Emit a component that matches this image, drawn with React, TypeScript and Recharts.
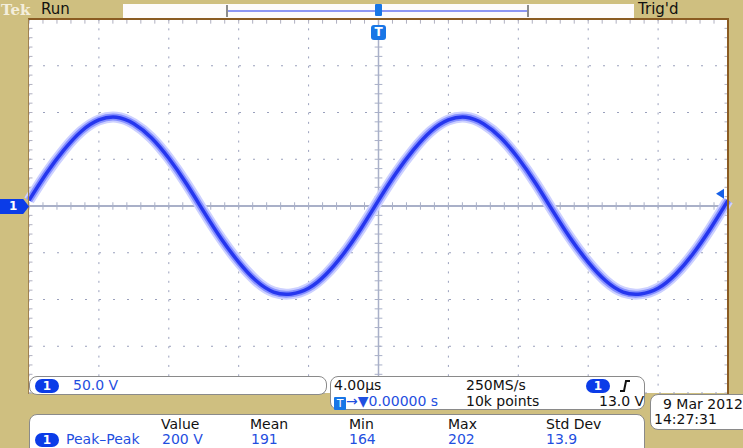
import React from "react";
import { LineChart, Line, XAxis, YAxis, CartesianGrid, ReferenceLine, ReferenceDot } from "recharts";

// time in µs (4 µs/div, trigger at centre), channel 1 in volts (50 V/div)
const timeUs = [-20, -19, -18, -17, -16, -15, -14, -13, -12, -11, -10, -9, -8, -7, -6, -5, -4, -3, -2, -1, 0, 1, 2, 3, 4, 5, 6, 7, 8, 9, 10, 11, 12, 13, 14, 15, 16, 17, 18, 19, 20];
const ch1Volts = [6, 35, 60, 80, 92, 95, 88, 73, 51, 24, -6, -35, -60, -80, -92, -94, -88, -73, -51, -24, 6, 35, 60, 80, 92, 95, 88, 73, 51, 24, -6, -35, -60, -80, -92, -94, -88, -73, -51, -24, 6];

const timeTicks = [-20, -16, -12, -8, -4, 0, 4, 8, 12, 16, 20];
const voltTicks = [-200, -150, -100, -50, 0, 50, 100, 150, 200];
const minorTime = Array.from({ length: 51 }, (_, i) => -20 + i * 0.8);
const minorVolt = Array.from({ length: 41 }, (_, i) => -200 + i * 10);

const triggerLevel = 13;

const data = timeUs.map((t, i) => ({ t, v: ch1Volts[i] }));

const BLUE = "#1f4fe0";
const TAN = "#cfbf80";

function Pill({ left, top }: { left: number; top: number }) {
  return (
    <div style={{ position: "absolute", left, top, width: 24, height: 14, borderRadius: 7, background: "#0b3ce8", color: "#fff", fontSize: 12, fontWeight: "bold", textAlign: "center", lineHeight: "14px" }}>1</div>
  );
}

const txt = (left: number, top: number, color = "#111"): React.CSSProperties => ({ position: "absolute", left, top, color, fontSize: 14, lineHeight: "16px", whiteSpace: "nowrap" });

const panel = (left: number, top: number, width: number, height: number): React.CSSProperties => ({
  position: "absolute", left, top, width, height, background: "#fff", border: "1px solid #8a8a8a", borderRadius: 8, boxSizing: "border-box",
});

export default function App() {
  return (
    <div style={{ position: "absolute", left: 0, top: 0, width: 743, height: 448, background: TAN, overflow: "hidden", fontFamily: "'DejaVu Sans', sans-serif" }}>
      {/* top status bar */}
      <div style={{ position: "absolute", left: 1, top: 1, fontFamily: "'DejaVu Serif', serif", fontWeight: "bold", fontSize: 15, color: "#f4eedc" }}>Tek</div>
      <div style={{ ...txt(41, 1), fontSize: 15 }}>Run</div>
      <div style={{ position: "absolute", left: 123, top: 4, width: 511, height: 14, background: "#fdfbfb" }} />
      <div style={{ position: "absolute", left: 228, top: 10, width: 300, height: 2, background: "#8d97f4" }} />
      <div style={{ position: "absolute", left: 226, top: 5, width: 2, height: 12, background: "#8c8c8c" }} />
      <div style={{ position: "absolute", left: 527, top: 5, width: 2, height: 12, background: "#8c8c8c" }} />
      <div style={{ position: "absolute", left: 375, top: 4, width: 7, height: 12, background: "#1876e6", borderRadius: 1 }} />
      <div style={{ ...txt(638, 1), fontSize: 15 }}>Trig'd</div>

      <LineChart width={743} height={448} data={data} margin={{ top: 19, right: 15, bottom: 55, left: 29 }} style={{ position: "absolute", left: 0, top: 0 }}>
        <XAxis dataKey="t" type="number" domain={[-20, 20]} ticks={timeTicks} hide />
        <YAxis type="number" domain={[-200, 200]} ticks={voltTicks} hide />
        <CartesianGrid fill="#ffffff" vertical={false} stroke="#9aa0bc" strokeDasharray="2 12" />
        <CartesianGrid horizontal={false} stroke="#9aa0bc" strokeDasharray="2 7.35" />
        <ReferenceLine y={0} stroke="#a9b0c8" strokeWidth={2} />
        <ReferenceLine x={0} stroke="#a9b0c8" strokeWidth={1.5} />
        {minorTime.map((t) => (
          <ReferenceLine key={"hx" + t} segment={[{ x: t, y: -4 }, { x: t, y: 4 }]} stroke="#a9b0c8" />
        ))}
        {minorTime.map((t) => (
          <ReferenceLine key={"tx" + t} segment={[{ x: t, y: 200 }, { x: t, y: 195 }]} stroke="#b0b0c0" />
        ))}
        {minorVolt.map((v) => (
          <ReferenceLine key={"vy" + v} segment={[{ x: -0.22, y: v }, { x: 0.22, y: v }]} stroke="#a9b0c8" />
        ))}
        {minorVolt.map((v) => (
          <ReferenceLine key={"ly" + v} segment={[{ x: -20, y: v }, { x: -19.8, y: v }]} stroke="#b0b0c0" />
        ))}
        {minorVolt.map((v) => (
          <ReferenceLine key={"ry" + v} segment={[{ x: 19.8, y: v }, { x: 20, y: v }]} stroke="#b0b0c0" />
        ))}
        <Line type="natural" dataKey="v" stroke="#ccd0ff" strokeWidth={11} dot={false} isAnimationActive={false} />
        <Line type="natural" dataKey="v" stroke="#8791ff" strokeWidth={7} dot={false} isAnimationActive={false} />
        <Line type="natural" dataKey="v" stroke="#2536ee" strokeWidth={3.5} dot={false} isAnimationActive={false} />
        <ReferenceDot
          x={19.6}
          y={triggerLevel}
          r={5}
          shape={(p: any) => (
            <path d={`M ${p.cx - 5} ${p.cy} L ${p.cx + 3} ${p.cy - 5} L ${p.cx + 3} ${p.cy + 5} Z`} fill="#1660e8" />
          )}
        />
      </LineChart>

      {/* plot frame */}
      <div style={{ position: "absolute", left: 28, top: 18, width: 701, height: 376, borderTop: "2px solid #8a5b22", borderRight: "2px solid #8a5b22", borderLeft: "1px solid #a08050", boxSizing: "border-box", pointerEvents: "none" }} />

      {/* channel 1 ground marker */}
      <div style={{ position: "absolute", left: 0, top: 199, width: 29, height: 15, background: "#0b3ce8", clipPath: "polygon(0 0, 80% 0, 100% 50%, 80% 100%, 0 100%)", color: "#fff", fontSize: 12, fontWeight: "bold", lineHeight: "15px", paddingLeft: 9, boxSizing: "border-box" }}>1</div>

      {/* trigger position marker */}
      <div style={{ position: "absolute", left: 371, top: 25, width: 15, height: 15, background: "#1876e6", borderRadius: 3, color: "#fff", fontSize: 12, fontWeight: "bold", textAlign: "center", lineHeight: "15px" }}>T</div>

      {/* channel scale */}
      <div style={panel(29, 376, 298, 19)}>
        <Pill left={5} top={2} />
        <div style={txt(43, 0, BLUE)}>50.0 V</div>
      </div>

      {/* timebase / trigger */}
      <div style={panel(330, 376, 315, 34)}>
        <div style={txt(3, 0)}>4.00µs</div>
        <div style={txt(135, 0)}>250MS/s</div>
        <Pill left={255} top={2} />
        <svg style={{ position: "absolute", left: 287, top: 2 }} width={14} height={14}>
          <path d="M 2 12 L 6 12 L 8 2 L 12 2" stroke="#111" strokeWidth={2} fill="none" />
        </svg>
        <div style={txt(3, 16, BLUE)}>
          <span style={{ display: "inline-block", width: 12, height: 13, background: "#1876e6", color: "#fff", fontSize: 11, textAlign: "center", lineHeight: "13px", borderRadius: 1, verticalAlign: "-1px" }}>T</span>→▼0.00000 s
        </div>
        <div style={txt(135, 16)}>10k points</div>
        <div style={txt(268, 16)}>13.0 V</div>
      </div>

      {/* date */}
      <div style={panel(650, 394, 110, 36)}>
        <div style={txt(12, 1)}>9 Mar 2012</div>
        <div style={txt(3, 16)}>14:27:31</div>
      </div>

      {/* measurements */}
      <div style={panel(29, 414, 616, 44)}>
        <div style={txt(131, 1)}>Value</div>
        <div style={txt(220, 1)}>Mean</div>
        <div style={txt(319, 1)}>Min</div>
        <div style={txt(418, 1)}>Max</div>
        <div style={txt(516, 1)}>Std Dev</div>
        <Pill left={5} top={18} />
        <div style={txt(36, 16, BLUE)}>Peak–Peak</div>
        <div style={txt(132, 16, BLUE)}>200 V</div>
        <div style={txt(221, 16, BLUE)}>191</div>
        <div style={txt(319, 16, BLUE)}>164</div>
        <div style={txt(418, 16, BLUE)}>202</div>
        <div style={txt(516, 16, BLUE)}>13.9</div>
      </div>
    </div>
  );
}
